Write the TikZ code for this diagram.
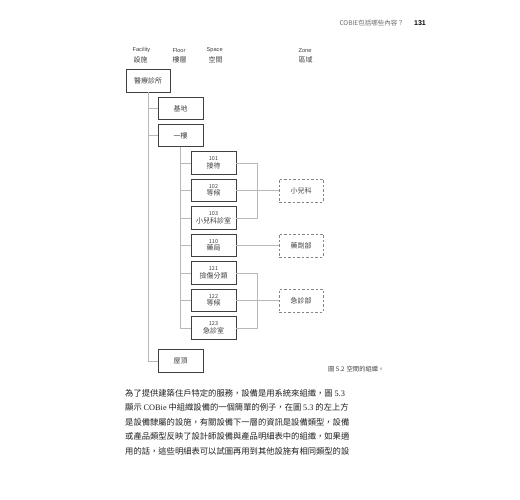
\documentclass[tikz,border=0pt]{standalone}
\usepackage{fontspec}
\setmainfont{Liberation Sans}
\newfontfamily\cjk{Noto Sans CJK TC}
\newfontfamily\serifl{Liberation Serif}
\definecolor{boxc}{HTML}{404040}
\definecolor{linec}{HTML}{B8B8B8}
\definecolor{zonec}{HTML}{858585}
\definecolor{txt}{HTML}{404040}
\definecolor{hdr}{HTML}{6A6A6A}
\newcommand{\spbox}[2]{{\fontsize{5.5}{6}\selectfont #1}\\[-0.5pt]#2}
\begin{document}
\begin{tikzpicture}[x=1pt,y=-1pt,
  box/.style={draw=boxc, line width=0.9pt, fill=white, minimum width=45pt, minimum height=22.5pt,
    inner sep=0pt, font=\cjk\fontsize{7}{8}\selectfont, text=txt, align=center},
  zone/.style={draw=zonec, dash pattern=on 2.5pt off 2pt, line width=0.75pt, minimum width=44pt,
    minimum height=23pt, inner sep=0pt, font=\cjk\fontsize{7}{8}\selectfont, text=txt},
  conn/.style={draw=linec, line width=0.75pt},
  colen/.style={anchor=west, font=\fontsize{5.7}{6}\selectfont, text=txt},
  colzh/.style={anchor=west, font=\cjk\fontsize{7}{8}\selectfont, text=txt},
  body/.style={anchor=west, inner sep=0pt, font=\cjk\fontsize{8.3}{9}\selectfont, text=black!88}
]
\useasboundingbox (0,0) rectangle (520,500);

% page header
\node[anchor=east, inner sep=0pt, font=\cjk\fontsize{6.5}{7}\selectfont, text=hdr] (ph) at (404,23) {COBIE包括哪些內容？};
\node[anchor=west, inner sep=0pt, font=\bfseries\fontsize{7}{8}\selectfont] (pn) at (414,23) {131};

% column headers
\node[colen] (hfac) at (129,50.5) {Facility};
\node[colzh] (hfaczh) at (130,59.5) {設施};
\node[colen] (hflo) at (169,50.5) {Floor};
\node[colzh] (hflozh) at (169,59.5) {樓層};
\node[colen] (hspa) at (203,50.5) {Space};
\node[colzh] (hspazh) at (205,59.5) {空間};
\node[colen] (hzon) at (295,50.5) {Zone};
\node[colzh] (hzonzh) at (295,59.5) {區域};

% boxes
\node[box, minimum width=44pt, minimum height=23pt] (fac) at (148,80.5) {醫療診所};
\node[box] (base) at (180.5,108.5) {基地};
\node[box] (f1) at (180.5,135.5) {一樓};
\node[box] (roof) at (180.5,361) {屋頂};

\node[box] (s101) at (213.5,163) {\spbox{101}{接待}};
\node[box] (s102) at (213.5,190.5) {\spbox{102}{等候}};
\node[box] (s103) at (213.5,218) {\spbox{103}{小兒科診室}};
\node[box] (s110) at (213.5,245.5) {\spbox{110}{藥局}};
\node[box] (s121) at (213.5,273) {\spbox{121}{撿傷分類}};
\node[box] (s122) at (213.5,300.5) {\spbox{122}{等候}};
\node[box] (s123) at (213.5,328) {\spbox{123}{急診室}};

\node[zone] (z1) at (301,190.5) {小兒科};
\node[zone] (z2) at (301,245.5) {藥劑部};
\node[zone] (z3) at (301,300.5) {急診部};

% connectors
\draw[conn] (fac.south) |- (roof.west);
\draw[conn] (fac.south |- base.west) -- (base.west);
\draw[conn] (fac.south |- f1.west) -- (f1.west);
\draw[conn] (f1.south) |- (s123.west);
\foreach \n in {s101,s102,s103,s110,s121,s122}{
  \draw[conn] (f1.south |- \n.west) -- (\n.west);
}
\draw[conn] (s101.east) -- ++(21,0) |- (s103.east);
\draw[conn] (s102.east) -- (z1.west);
\draw[conn] (s110.east) -- (z2.west);
\draw[conn] (s121.east) -- ++(21,0) |- (s123.east);
\draw[conn] (s122.east) -- (z3.west);

% caption
\node[anchor=west, inner sep=0pt, font=\cjk\fontsize{6.3}{7}\selectfont, text=txt] (cap) at (328,369) {圖 5.2\hspace{2pt}空間的組織。};

% body text
\node[body] (l1) at (125,393) {為了提供建築住戶特定的服務，設備是用系統來組織，圖 {\serifl 5.3}};
\node[body] (l2) at (125,407.5) {顯示 {\serifl COBie} 中組織設備的一個簡單的例子，在圖 {\serifl 5.3} 的左上方};
\node[body] (l3) at (125,422) {是設備隸屬的設施，有關設備下一層的資訊是設備類型，設備};
\node[body] (l4) at (125,436.5) {或產品類型反映了設計師設備與產品明細表中的組織，如果適};
\node[body] (l5) at (125,451) {用的話，這些明細表可以試圖再用到其他設施有相同類型的設};
\end{tikzpicture}
\end{document}
